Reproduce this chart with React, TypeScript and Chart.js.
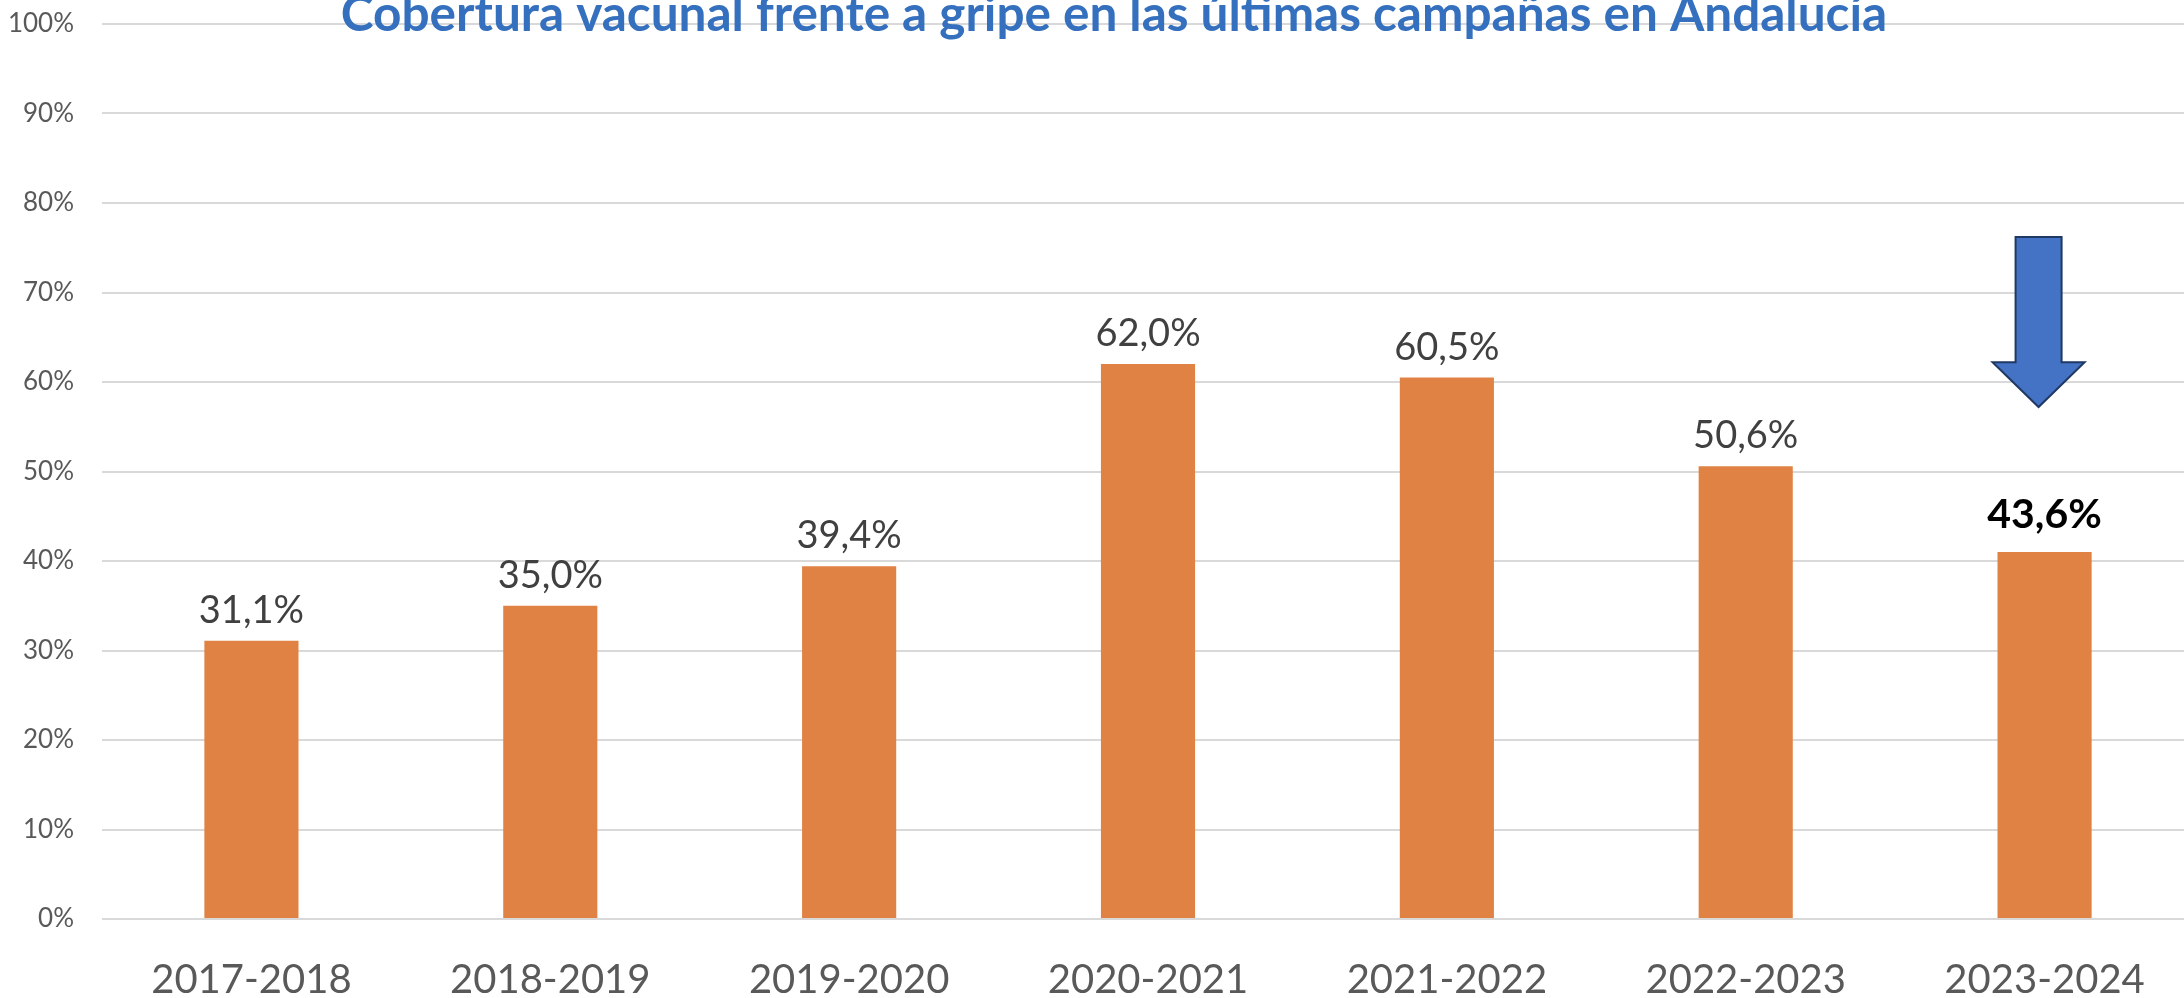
import React, { useEffect, useRef } from "react";
import { Chart, registerables } from "chart.js";

Chart.register(...registerables);

const categories = ["2017-2018", "2018-2019", "2019-2020", "2020-2021", "2021-2022", "2022-2023", "2023-2024"];
const coverage = [31.1, 35.0, 39.4, 62.0, 60.5, 50.6, 41.0];
const valueLabels = ["31,1%", "35,0%", "39,4%", "62,0%", "60,5%", "50,6%", "43,6%"];
const highlightIndex = 6;
const yTickValues = [0, 10, 20, 30, 40, 50, 60, 70, 80, 90, 100];
const titleText = "Cobertura vacunal frente a gripe en las últimas campañas en Andalucía";
// arrow annotation over last bar, in axis units (%)
const arrowTop = 76.2;
const arrowHeadBase = 62.2;
const arrowTip = 57.2;

const FONT = "Lato, 'Open Sans', sans-serif";

const labelsPlugin = {
  id: "valueLabels",
  afterDatasetsDraw(chart: any) {
    const ctx = chart.ctx;
    const meta = chart.getDatasetMeta(0);
    ctx.save();
    ctx.textAlign = "center";
    ctx.textBaseline = "alphabetic";
    meta.data.forEach((el: any, i: number) => {
      const hi = i === highlightIndex;
      ctx.font = hi ? `bold 41px ${FONT}` : `38px ${FONT}`;
      ctx.fillStyle = hi ? "#000000" : "#404040";
      ctx.fillText(valueLabels[i], el.x, el.y - (hi ? 24 : 18));
    });
    ctx.restore();
  },
};

const arrowPlugin = {
  id: "arrow",
  afterDatasetsDraw(chart: any) {
    const ctx = chart.ctx;
    const meta = chart.getDatasetMeta(0);
    const el = meta.data[highlightIndex];
    const ys = chart.scales.y;
    const cx = el.x - 6;
    const yT = ys.getPixelForValue(arrowTop);
    const yH = ys.getPixelForValue(arrowHeadBase);
    const yP = ys.getPixelForValue(arrowTip);
    const sw = 23;
    const hw = 46;
    ctx.save();
    ctx.beginPath();
    ctx.moveTo(cx - sw, yT);
    ctx.lineTo(cx + sw, yT);
    ctx.lineTo(cx + sw, yH);
    ctx.lineTo(cx + hw, yH);
    ctx.lineTo(cx, yP);
    ctx.lineTo(cx - hw, yH);
    ctx.lineTo(cx - sw, yH);
    ctx.closePath();
    ctx.fillStyle = "#4472C4";
    ctx.fill();
    ctx.lineWidth = 2;
    ctx.strokeStyle = "#1F3864";
    ctx.stroke();
    ctx.restore();
  },
};

const titlePlugin = {
  id: "overlayTitle",
  afterDraw(chart: any) {
    const ctx = chart.ctx;
    ctx.save();
    ctx.font = `bold 49.5px ${FONT}`;
    ctx.fillStyle = "#3470BE";
    ctx.textAlign = "center";
    ctx.textBaseline = "alphabetic";
    ctx.fillText(titleText, 1114, 31);
    ctx.restore();
  },
};

export default function App() {
  const ref = useRef<HTMLCanvasElement | null>(null);
  useEffect(() => {
    if (!ref.current) return;
    const chart = new Chart(ref.current, {
      type: "bar",
      data: {
        labels: categories,
        datasets: [
          {
            data: coverage,
            backgroundColor: "#E08244",
            borderWidth: 0,
            categoryPercentage: 1,
            barPercentage: 0.315,
          },
        ],
      },
      options: {
        responsive: false,
        animation: false,
        devicePixelRatio: 1,
        layout: { padding: { top: 24, bottom: 0, left: 0, right: 0 } },
        plugins: {
          legend: { display: false },
          title: { display: false },
          tooltip: { enabled: false },
        },
        scales: {
          x: {
            grid: { display: false, drawTicks: false },
            border: { display: false },
            afterFit(scale: any) {
              scale.height = 79;
              scale.paddingLeft = 0;
              scale.paddingRight = 0;
            },
            ticks: {
              color: "#595959",
              font: { family: FONT, size: 40 },
              padding: 37,
              maxRotation: 0,
              autoSkip: false,
            },
          },
          y: {
            min: 0,
            max: 100,
            afterBuildTicks(scale: any) {
              scale.ticks = yTickValues.map((v) => ({ value: v }));
            },
            afterFit(scale: any) {
              scale.width = 102;
              scale.paddingTop = 0;
              scale.paddingBottom = 0;
            },
            grid: { color: "#d9d9d9", lineWidth: 2, drawTicks: false },
            border: { display: false },
            ticks: {
              color: "#595959",
              font: { family: FONT, size: 26 },
              padding: 28,
              callback: (v: any) => `${v}%`,
            },
          },
        },
      },
      plugins: [labelsPlugin, arrowPlugin, titlePlugin],
    });
    return () => chart.destroy();
  }, []);
  return (
    <div
      style={{
        position: "fixed",
        left: 0,
        top: 0,
        width: 2184,
        height: 998,
        overflow: "hidden",
        background: "#ffffff",
      }}
    >
      <canvas ref={ref} width={2194} height={998} style={{ display: "block" }} />
    </div>
  );
}
